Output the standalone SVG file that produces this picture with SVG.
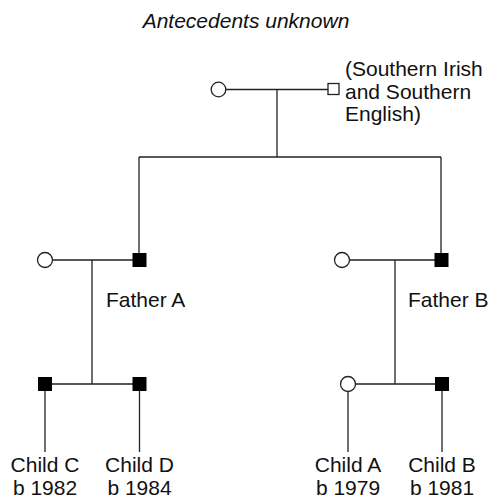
<svg xmlns="http://www.w3.org/2000/svg" width="490" height="499" viewBox="0 0 490 499">
<style>
.ln{stroke:#222;stroke-width:1.3;fill:none}
.f{fill:#000;stroke:#000;stroke-width:1}
.o{fill:#fff;stroke:#222;stroke-width:1.3}
text{font-family:"Liberation Sans",Arial,sans-serif;font-size:21px;fill:#111}
.c{text-anchor:middle}
</style>
<rect width="490" height="499" fill="#fff"/>
<text x="246" y="28" class="c" font-style="italic" font-size="21.5">Antecedents unknown</text>
<g id="connectors">
<path class="ln" d="M218.5 89.5H333M277 89.5V157M139 157H441M139 157V260M441 157V260"/>
<path class="ln" d="M45 260H139M92 260V384M45 384H139.5M45 384V452M139.5 384V452"/>
<path class="ln" d="M342 260H441M395 260V384M348 384H442M348 384V452M442 384V452"/>
</g>
<g id="gp-mother"><circle class="o" cx="218.5" cy="89.5" r="7.3"/></g>
<g id="gp-father"><rect class="o" x="328" y="83.5" width="11" height="11"/>
<text x="345" y="76">(Southern Irish</text><text x="345" y="98.5">and Southern</text><text x="345" y="121">English)</text></g>
<g id="mother-a"><circle class="o" cx="45" cy="260" r="7.5"/></g>
<g id="father-a"><rect class="f" x="133" y="253.5" width="13" height="13"/><text x="106" y="307">Father A</text></g>
<g id="mother-b"><circle class="o" cx="342" cy="260" r="7.5"/></g>
<g id="father-b"><rect class="f" x="435" y="253.5" width="13" height="13"/><text x="408" y="307">Father B</text></g>
<g id="child-c"><rect class="f" x="38.5" y="377.5" width="13" height="13"/><text x="45" y="472" class="c">Child C</text><text x="45" y="495" class="c">b 1982</text></g>
<g id="child-d"><rect class="f" x="133" y="377.5" width="13" height="13"/><text x="139.5" y="472" class="c">Child D</text><text x="139.5" y="495" class="c">b 1984</text></g>
<g id="child-a"><circle class="o" cx="348" cy="384" r="7.5"/><text x="348" y="472" class="c">Child A</text><text x="348" y="495" class="c">b 1979</text></g>
<g id="child-b"><rect class="f" x="435.5" y="377.5" width="13" height="13"/><text x="442" y="472" class="c">Child B</text><text x="442" y="495" class="c">b 1981</text></g>
</svg>
